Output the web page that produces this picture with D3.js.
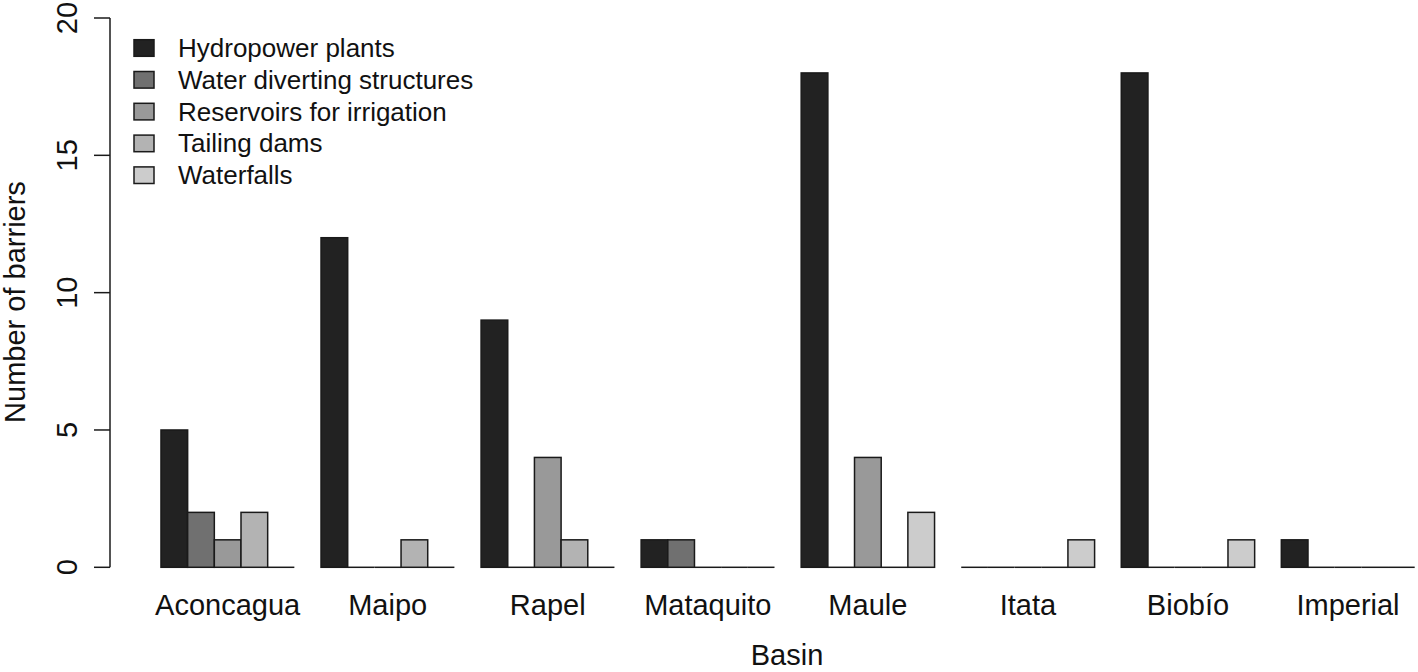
<!DOCTYPE html>
<html>
<head>
<meta charset="utf-8">
<script src="https://cdn.jsdelivr.net/npm/d3@7"></script>
<style>
  body { margin: 0; background: #fff; }
  text { font-family: "Liberation Sans", Arial, sans-serif; fill: #111; }
</style>
</head>
<body>
<div id="chart"></div>
<script>
const basins = ['Aconcagua', 'Maipo', 'Rapel', 'Mataquito', 'Maule', 'Itata', 'Biobío', 'Imperial'];
const barrierTypes = ['Hydropower plants', 'Water diverting structures', 'Reservoirs for irrigation', 'Tailing dams', 'Waterfalls'];
const hydropower = [5, 12, 9, 1, 18, 0, 18, 1];
const waterDiverting = [2, 0, 0, 1, 0, 0, 0, 0];
const reservoirs = [1, 0, 4, 0, 4, 0, 0, 0];
const tailingDams = [2, 1, 1, 0, 0, 0, 0, 0];
const waterfalls = [0, 0, 0, 0, 2, 1, 1, 0];
const yTicks = [0, 5, 10, 15, 20];
const colors = ['#222222', '#707070', '#999999', '#b3b3b3', '#cccccc'];

const series = [hydropower, waterDiverting, reservoirs, tailingDams, waterfalls];

const width = 1418, height = 672;
const svg = d3.select('#chart').append('svg')
    .attr('width', width)
    .attr('height', height);

// groups of 5 bars with one bar-width gap before each group
const x0 = d3.scaleBand()
    .domain(basins)
    .range([134.3, 1414.7])
    .paddingInner(1 / 6)
    .paddingOuter(1 / 12)
    .align(1);
const x1 = d3.scaleBand()
    .domain(d3.range(barrierTypes.length))
    .range([0, x0.bandwidth()]);
const y = d3.scaleLinear()
    .domain([0, 20])
    .range([567.3, 18]);

const groups = svg.selectAll('.group')
    .data(basins)
    .enter()
    .append('g')
    .attr('class', 'group')
    .attr('transform', d => `translate(${x0(d)}, 0)`);

groups.selectAll('rect')
    .data((d, i) => series.map((s, k) => ({ k: k, v: s[i] })))
    .enter()
    .append('rect')
    .attr('x', d => x1(d.k))
    .attr('y', d => y(d.v))
    .attr('width', x1.bandwidth())
    .attr('height', d => y(0) - y(d.v))
    .attr('fill', d => colors[d.k])
    .attr('stroke', '#1a1a1a')
    .attr('stroke-width', 1.5);

// zero-height bars still show their border as a flat line
groups.selectAll('line.zero')
    .data((d, i) => series.map((s, k) => ({ k: k, v: s[i] })).filter(d => d.v === 0))
    .enter()
    .append('line')
    .attr('class', 'zero')
    .attr('x1', d => x1(d.k))
    .attr('x2', d => x1(d.k) + x1.bandwidth())
    .attr('y1', y(0))
    .attr('y2', y(0))
    .attr('stroke', '#1a1a1a')
    .attr('stroke-width', 1.5);

// category labels
svg.selectAll('.cat')
    .data(basins)
    .enter()
    .append('text')
    .attr('class', 'cat')
    .attr('x', d => x0(d) + x0.bandwidth() / 2)
    .attr('y', 615)
    .attr('text-anchor', 'middle')
    .style('font-size', '29px')
    .text(d => d);

// y axis
const yAxis = svg.append('g');
yAxis.append('line')
    .attr('x1', 110).attr('x2', 110)
    .attr('y1', y(0)).attr('y2', y(20))
    .attr('stroke', '#1a1a1a')
    .attr('stroke-width', 1.5);
yAxis.selectAll('.tick')
    .data(yTicks)
    .enter()
    .append('line')
    .attr('x1', 94).attr('x2', 110)
    .attr('y1', d => y(d)).attr('y2', d => y(d))
    .attr('stroke', '#1a1a1a')
    .attr('stroke-width', 1.5);
yAxis.selectAll('.tlabel')
    .data(yTicks)
    .enter()
    .append('text')
    .attr('text-anchor', 'middle')
    .attr('transform', d => `translate(77, ${y(d)}) rotate(-90)`)
    .style('font-size', '29px')
    .text(d => d);

svg.append('text')
    .attr('text-anchor', 'middle')
    .attr('transform', 'translate(25, 302) rotate(-90)')
    .style('font-size', '29px')
    .text('Number of barriers');

svg.append('text')
    .attr('x', 787)
    .attr('y', 665)
    .attr('text-anchor', 'middle')
    .style('font-size', '29px')
    .text('Basin');

// legend
const legend = svg.selectAll('.legend')
    .data(barrierTypes)
    .enter()
    .append('g')
    .attr('class', 'legend')
    .attr('transform', (d, i) => `translate(134, ${48 + i * 31.8})`);
legend.append('rect')
    .attr('x', 0)
    .attr('y', -8.3)
    .attr('width', 20)
    .attr('height', 16.6)
    .attr('fill', (d, i) => colors[i])
    .attr('stroke', '#1a1a1a')
    .attr('stroke-width', 1.5);
legend.append('text')
    .attr('x', 44)
    .attr('y', 9)
    .style('font-size', '26px')
    .text(d => d);
</script>
</body>
</html>
